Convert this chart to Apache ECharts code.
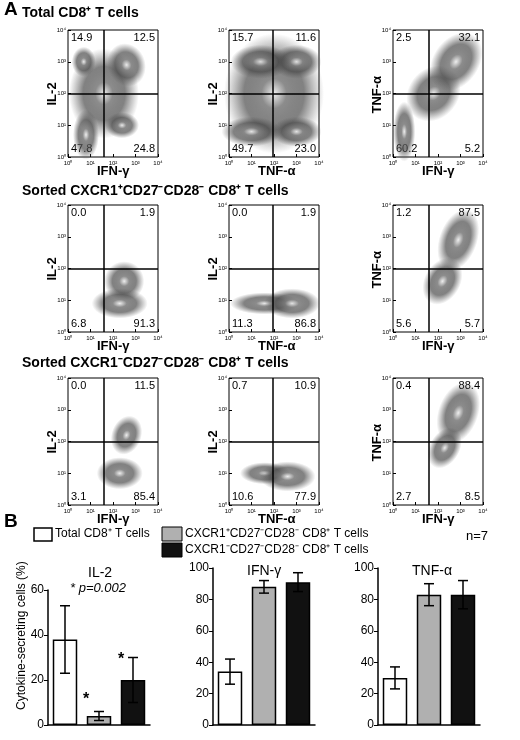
<!DOCTYPE html>
<html>
<head>
<meta charset="UTF-8"/>
<script src="https://cdn.jsdelivr.net/npm/echarts@6/dist/echarts.min.js"></script>
<style>html,body{margin:0;padding:0;background:#fff}#main{width:520px;height:740px}</style>
</head>
<body>
<div id="main"></div>
<script>
// flow plots: clusters [x(log), y(log), width px, height px, rotation deg]
var flowClusters = [
  [[0.8,0.7,26,50,0],[0.7,3.0,24,30,0],[2.6,2.9,38,44,20],[2.4,1.0,34,26,0],[1.6,2.0,70,90,0]],
  [[1.0,0.8,60,30,0],[3.0,0.8,50,30,0],[1.4,3.0,60,34,0],[3.0,3.0,50,34,0],[2.0,2.0,100,120,0]],
  [[0.5,0.8,22,60,0],[2.8,3.0,46,64,-35],[1.8,2.0,50,60,-40]],
  [[2.3,0.9,56,30,0],[2.5,1.6,40,40,0]],
  [[2.8,0.9,56,30,0],[1.6,0.9,70,22,0]],
  [[2.9,2.9,38,64,-20],[2.2,1.6,36,50,-30]],
  [[2.3,1.0,46,32,0],[2.6,2.2,30,40,-20]],
  [[2.6,0.9,56,30,0],[1.6,1.0,50,22,0]],
  [[2.9,2.9,40,64,-20],[2.3,1.8,30,44,-30]]
];
var quadrantValues = [
  ['14.9','12.5','47.8','24.8'],['15.7','11.6','49.7','23.0'],['2.5','32.1','60.2','5.2'],
  ['0.0','1.9','6.8','91.3'],['0.0','1.9','11.3','86.8'],['1.2','87.5','5.6','5.7'],
  ['0.0','11.5','3.1','85.4'],['0.7','10.9','10.6','77.9'],['0.4','88.4','2.7','8.5']
];
var xGates = [1.6,1.95,1.6, 1.6,1.95,1.6, 1.6,1.95,1.6];
var yGate = 2;
var xNames = ['IFN-γ','TNF-α','IFN-γ'];
var yNames = ['IL-2','IL-2','TNF-α'];
var rowTitles = ['Total CD8⁺ T cells','Sorted CXCR1⁺CD27⁻CD28⁻ CD8⁺ T cells','Sorted CXCR1⁻CD27⁻CD28⁻ CD8⁺ T cells'];
var tickLabels = ['10⁰','10¹','10²','10³','10⁴'];

var barTitles = ['IL-2','IFN-γ','TNF-α'];
var barMeans = [[38,4,20],[34,88,91],[30,83,83]];
var barErrors = [[15,2,10],[8,4,6],[7,7,9]];
var barColors = ['#ffffff','#b0b0b0','#111111'];
var barMax = [60,100,100];

var colLeft = [68,229,393], rowTop = [30,205,378], pw = 90, ph = 127;
var grids = [], xAxes = [], yAxes = [], series = [], graphics = [];
var F = 'Liberation Sans';

graphics.push({type:'text',left:4,top:0,style:{text:'A',font:'bold 19px '+F,fill:'#000'}});
graphics.push({type:'text',left:4,top:512,style:{text:'B',font:'bold 19px '+F,fill:'#000'}});
var titleTops = [6,184,356];
rowTitles.forEach(function(t,i){
  graphics.push({type:'text',left:22,top:titleTops[i],style:{text:t,font:'bold 14px '+F,fill:'#000'}});
});

var blobColor = {type:'radial',x:0.5,y:0.5,r:0.5,colorStops:[
  {offset:0,color:'rgba(235,235,235,1)'},{offset:0.25,color:'rgba(120,120,120,1)'},
  {offset:0.6,color:'rgba(70,70,70,0.8)'},{offset:1,color:'rgba(90,90,90,0)'}]};

for (var p=0;p<9;p++){
  var r = Math.floor(p/3), c = p%3;
  var L = colLeft[c], T = rowTop[r];
  grids.push({left:L,top:T,width:pw,height:ph,show:true,borderColor:'#000',borderWidth:1});
  xAxes.push({gridIndex:p,type:'value',min:0,max:4,interval:1,
    axisLine:{show:false},axisTick:{show:true,inside:true,length:3,lineStyle:{color:'#000'}},
    splitLine:{show:false},
    axisLabel:{fontSize:6,color:'#000',margin:3,formatter:function(v){return tickLabels[v];}}});
  yAxes.push({gridIndex:p,type:'value',min:0,max:4,interval:1,
    axisLine:{show:false},axisTick:{show:true,inside:true,length:3,lineStyle:{color:'#000'}},
    splitLine:{show:false},
    axisLabel:{fontSize:6,color:'#000',margin:2,formatter:function(v){return tickLabels[v];}}});
  series.push({type:'scatter',xAxisIndex:p,yAxisIndex:p,silent:true,
    data:flowClusters[p].slice().reverse(),
    symbolSize:function(d){return [d[2],d[3]];},
    symbolRotate:function(d){return d[4];},
    itemStyle:{color:blobColor,opacity:0.85},
    markLine:{silent:true,symbol:'none',label:{show:false},
      lineStyle:{color:'#000',width:1.5,type:'solid'},
      data:[{xAxis:xGates[p]},{yAxis:yGate}]}});
  var q = quadrantValues[p];
  var qs = {font:'11px '+F,fill:'#000'};
  graphics.push({type:'text',left:L+3,top:T+2,style:Object.assign({text:q[0]},qs)});
  graphics.push({type:'text',right:520-L-pw+3,top:T+2,style:Object.assign({text:q[1]},qs)});
  graphics.push({type:'text',left:L+3,top:T+ph-14,style:Object.assign({text:q[2]},qs)});
  graphics.push({type:'text',right:520-L-pw+3,top:T+ph-14,style:Object.assign({text:q[3]},qs)});
  graphics.push({type:'text',left:L+pw/2-16,top:T+ph+8,style:{text:xNames[c],font:'bold 13px '+F,fill:'#000'}});
  graphics.push({type:'text',x:L-22,y:T+ph/2+(c===2?20:12),rotation:Math.PI/2,
    style:{text:yNames[c],font:'bold 13px '+F,fill:'#000'}});
}

// panel B legend
graphics.push({type:'rect',shape:{x:34,y:528,width:18,height:13},style:{fill:'#fff',stroke:'#000',lineWidth:1.5}});
graphics.push({type:'text',left:55,top:528,style:{text:'Total CD8⁺ T cells',font:'12px '+F,fill:'#000'}});
graphics.push({type:'rect',shape:{x:162,y:527,width:20,height:14},style:{fill:'#b0b0b0',stroke:'#000',lineWidth:1}});
graphics.push({type:'text',left:185,top:528,style:{text:'CXCR1⁺CD27⁻CD28⁻ CD8⁺ T cells',font:'12px '+F,fill:'#000'}});
graphics.push({type:'rect',shape:{x:162,y:543,width:20,height:14},style:{fill:'#111',stroke:'#000',lineWidth:1}});
graphics.push({type:'text',left:185,top:544,style:{text:'CXCR1⁻CD27⁻CD28⁻ CD8⁺ T cells',font:'12px '+F,fill:'#000'}});
graphics.push({type:'text',x:466,y:530,style:{text:'n=7',font:'13px '+F,fill:'#000'}});
graphics.push({type:'text',x:16,y:710,rotation:Math.PI/2,style:{text:'Cytokine-secreting cells (%)',font:'12px '+F,fill:'#000'}});

var barLeft = [48,213,378], barTop = [590,568,568], barBottom = 15;
for (var b=0;b<3;b++){
  var gi = 9+b;
  grids.push({left:barLeft[b],top:barTop[b],width:102,bottom:barBottom});
  xAxes.push({gridIndex:gi,type:'category',data:['a','b','c'],
    axisLine:{lineStyle:{color:'#000',width:1.5}},axisTick:{show:false},axisLabel:{show:false}});
  yAxes.push({gridIndex:gi,type:'value',min:0,max:barMax[b],interval:20,
    axisLine:{show:true,lineStyle:{color:'#000',width:1.5}},axisTick:{show:true,length:4,lineStyle:{color:'#000'}},
    splitLine:{show:false},axisLabel:{fontSize:12,color:'#000',fontFamily:F,margin:4}});
  series.push({type:'bar',xAxisIndex:gi,yAxisIndex:gi,barWidth:'72%',
    data:barMeans[b].map(function(v,i){return {value:v,itemStyle:{color:barColors[i],borderColor:'#000',borderWidth:1.5}};})});
  series.push({type:'custom',xAxisIndex:gi,yAxisIndex:gi,z:10,
    data:barMeans[b].map(function(v,i){return [i,v,barErrors[b][i]];}),
    renderItem:function(params,api){
      var x=api.value(0),m=api.value(1),e=api.value(2);
      var top=api.coord([x,m+e]),bot=api.coord([x,m-e]);
      var w=5,s={stroke:'#000',lineWidth:1.5};
      return {type:'group',children:[
        {type:'line',shape:{x1:top[0],y1:top[1],x2:bot[0],y2:bot[1]},style:s},
        {type:'line',shape:{x1:top[0]-w,y1:top[1],x2:top[0]+w,y2:top[1]},style:s},
        {type:'line',shape:{x1:bot[0]-w,y1:bot[1],x2:bot[0]+w,y2:bot[1]},style:s}
      ]};
    }});
  graphics.push({type:'text',left:barLeft[b]+(b===0?40:34),top:(b===0?566:564),style:{text:barTitles[b],font:'14px '+F,fill:'#000'}});
}
graphics.push({type:'text',left:70,top:582,style:{text:'* p=0.002',font:'italic 13px '+F,fill:'#000'}});
graphics.push({type:'text',left:83,top:692,style:{text:'*',font:'bold 16px '+F,fill:'#000'}});
graphics.push({type:'text',left:118,top:652,style:{text:'*',font:'bold 16px '+F,fill:'#000'}});

var myChart = echarts.init(document.getElementById('main'));
myChart.setOption({animation:false,grid:grids,xAxis:xAxes,yAxis:yAxes,series:series,graphic:graphics});
</script>
</body>
</html>
